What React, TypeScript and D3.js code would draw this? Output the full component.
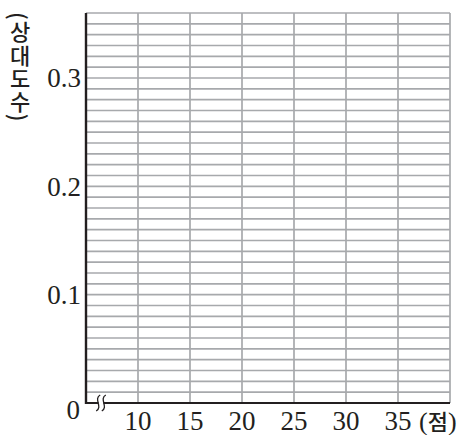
import React from 'react';
import * as d3 from 'd3';

const xTicks = [10, 15, 20, 25, 30, 35];
const yTicks = [0.1, 0.2, 0.3];
const xDomain: [number, number] = [5, 40];
const yDomain: [number, number] = [0, 0.36];
const yStep = 0.01;
const xStep = 5;
const yTitle = '(상대도수)';
const xUnit = '점';

const width = 464;
const height = 435;
const margin = { top: 13, right: 14, bottom: 32, left: 86 };

const serif = '"Liberation Serif", "DejaVu Serif", serif';
const korean = '"Noto Sans CJK KR", sans-serif';
const gridColor = '#a7a9ac';
const axisColor = '#231f20';

const App: React.FC = () => {
  const x = d3.scaleLinear().domain(xDomain).range([margin.left, width - margin.right]);
  const y = d3.scaleLinear().domain(yDomain).range([height - margin.bottom, margin.top]);

  const hLines = d3.range(yDomain[0] + yStep, yDomain[1] + yStep / 2, yStep);
  const vLines = d3.range(xDomain[0] + xStep, xDomain[1] + xStep / 2, xStep);

  const x0 = x(xDomain[0]);
  const y0 = y(0);
  const bx = x0 + 15; // break mark position

  return (
    <svg width={width} height={height} style={{ position: 'absolute', left: 0, top: 0 }}>
      <rect width={width} height={height} fill="#fff" />
      {hLines.map((v) => (
        <line key={'h' + v} x1={x0} x2={x(xDomain[1])} y1={y(v)} y2={y(v)} stroke={gridColor} strokeWidth={1.7} />
      ))}
      {vLines.map((v) => (
        <line key={'v' + v} x1={x(v)} x2={x(v)} y1={y(yDomain[1])} y2={y0} stroke={gridColor} strokeWidth={1.7} />
      ))}
      <line x1={x0} x2={x0} y1={y(yDomain[1])} y2={y0 + 1} stroke={axisColor} strokeWidth={2.4} />
      <line x1={x0} x2={x(xDomain[1])} y1={y0} y2={y0} stroke={axisColor} strokeWidth={2} />
      {/* axis break */}
      <rect x={bx - 2.5} y={y0 - 2} width={5} height={4} fill="#fff" />
      {[-2.8, 2.8].map((d) => (
        <path
          key={d}
          d={`M${bx + d + 2},${y0 - 8} C${bx + d - 5},${y0 - 4} ${bx + d + 5},${y0 + 4} ${bx + d - 2},${y0 + 8}`}
          fill="none"
          stroke={axisColor}
          strokeWidth={1.3}
        />
      ))}
      {yTicks.map((v) => (
        <text key={v} x={x0 - 5} y={y(v)} dy="0.35em" textAnchor="end" fontFamily={serif} fontSize={27} fill={axisColor}>
          {String(v)}
        </text>
      ))}
      <text x={x0 - 6} y={y0 + 16} textAnchor="end" fontFamily={serif} fontSize={27} fill={axisColor}>
        0
      </text>
      {xTicks.map((v) => (
        <text key={v} x={x(v)} y={y0 + 27} textAnchor="middle" fontFamily={serif} fontSize={27} fill={axisColor}>
          {v}
        </text>
      ))}
      <text x={419} y={y0 + 27} fontFamily={serif} fontSize={26} fill={axisColor}>
        <tspan>(</tspan>
        <tspan fontFamily={korean} fontSize={22} fontWeight={500}>{xUnit}</tspan>
        <tspan>)</tspan>
      </text>
      <text
        x={20}
        y={12}
        fontFamily={korean}
        fontSize={22}
        fontWeight={500}
        letterSpacing={1.2}
        fill={axisColor}
        style={{ writingMode: 'vertical-rl', textOrientation: 'mixed' }}
      >
        {yTitle}
      </text>
    </svg>
  );
};

export default App;
